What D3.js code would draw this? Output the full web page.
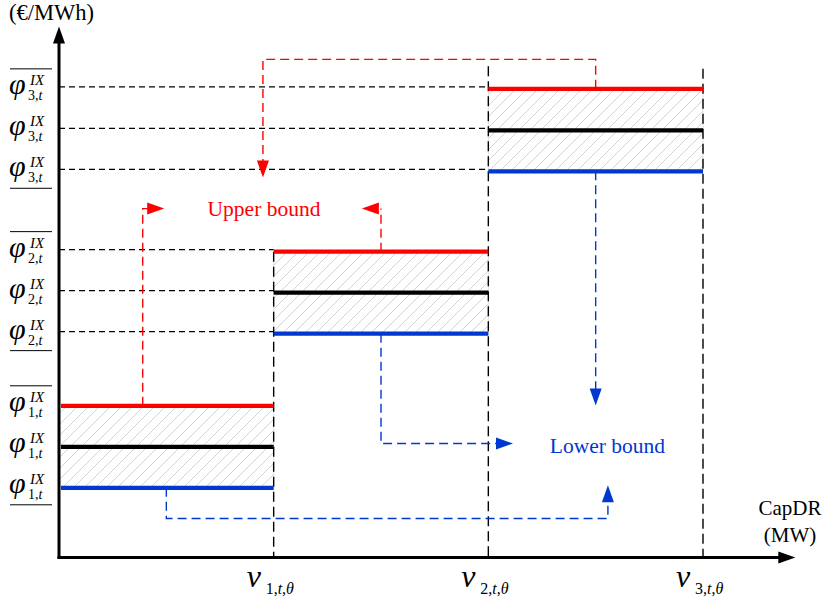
<!DOCTYPE html>
<html>
<head>
<meta charset="utf-8">
<title>CapDR price steps</title>
<style>
  body { margin: 0; background: #fff; }
  svg text { font-family: "Liberation Serif", "DejaVu Serif", serif; }
</style>
</head>
<body>
<div class="drawing"></div>
<script src="https://d3js.org/d3.v7.min.js"></script>
<script>
var w = 827, h = 603;

// data
var steps = [1, 2, 3];
var capBreaks = [0, 1, 2, 3];
var upperPrice = [37, 74.6, 114.3];
var meanPrice  = [27, 64.6, 104.2];
var lowerPrice = [17, 54.6, 94.2];

var red = "#ff0000", blue = "#0038d0";

var svg = d3.select("div.drawing").append("svg")
  .attr("width", w).attr("height", h);

var x = d3.scaleLinear().domain([0, 3]).range([59, 703]);
var y = d3.scaleLinear().domain([0, 130]).range([557.5, 24.5]);

/* hatch pattern */
var pat = svg.append("defs").append("pattern")
  .attr("id", "hatch").attr("patternUnits", "userSpaceOnUse")
  .attr("width", 11).attr("height", 11);
pat.append("path")
  .attr("d", "M-1,1 l2,-2 M0,11 l11,-11 M10,12 l2,-2")
  .attr("stroke", "#d4d4d4").attr("stroke-width", 1);

/* hatched bands */
svg.selectAll("rect.band").data(steps).enter().append("rect")
  .attr("class", "band")
  .attr("x", function(d, i){ return x(capBreaks[i]); })
  .attr("y", function(d, i){ return y(upperPrice[i]); })
  .attr("width", function(d, i){ return x(capBreaks[i + 1]) - x(capBreaks[i]); })
  .attr("height", function(d, i){ return y(lowerPrice[i]) - y(upperPrice[i]); })
  .attr("fill", "url(#hatch)")
  .attr("stroke", "#e2e2e2").attr("stroke-width", 1);

/* horizontal guide lines */
var levels = [upperPrice, meanPrice, lowerPrice];
steps.forEach(function(s, i){
  if (i === 0) return;
  levels.forEach(function(arr){
    svg.append("line")
      .attr("x1", x(0)).attr("x2", x(capBreaks[i]))
      .attr("y1", y(arr[i]) - 2).attr("y2", y(arr[i]) - 2)
      .attr("stroke", "#000").attr("stroke-width", 1.3)
      .attr("stroke-dasharray", "6,4");
  });
});

/* vertical guide lines */
var vTops = [upperPrice[1], 119.8, 119.2];
capBreaks.slice(1).forEach(function(b, i){
  svg.append("line")
    .attr("x1", x(b)).attr("x2", x(b))
    .attr("y1", y(vTops[i])).attr("y2", y(0))
    .attr("stroke", "#000").attr("stroke-width", 1.4)
    .attr("stroke-dasharray", "10,5");
});

/* step lines */
var series = [
  {vals: upperPrice, color: red},
  {vals: meanPrice, color: "#000"},
  {vals: lowerPrice, color: blue}
];
series.forEach(function(sr){
  svg.selectAll(null).data(steps).enter().append("line")
    .attr("x1", function(d, i){ return x(capBreaks[i]) + (i === 0 ? 2 : 0); })
    .attr("x2", function(d, i){ return x(capBreaks[i + 1]); })
    .attr("y1", function(d, i){ return y(sr.vals[i]); })
    .attr("y2", function(d, i){ return y(sr.vals[i]); })
    .attr("stroke", sr.color).attr("stroke-width", 4.3);
});

/* arrows */
function head(tx, ty, dir, color){
  var L = 17, hw = 6, p;
  if (dir === "down") p = [[tx, ty], [tx - hw, ty - L], [tx + hw, ty - L]];
  if (dir === "up") p = [[tx, ty], [tx - hw, ty + L], [tx + hw, ty + L]];
  if (dir === "right") p = [[tx, ty], [tx - L, ty - hw], [tx - L, ty + hw]];
  if (dir === "left") p = [[tx, ty], [tx + L, ty - hw], [tx + L, ty + hw]];
  svg.append("path").attr("d", "M" + p.join("L") + "Z").attr("fill", color);
}
function dashed(pts, color){
  svg.append("path")
    .attr("d", d3.line()(pts))
    .attr("fill", "none").attr("stroke", color).attr("stroke-width", 1.4)
    .attr("stroke-dasharray", "9,5");
}

// upper bound (red)
dashed([[x(2.5), y(upperPrice[2])], [x(2.5), y(121.5)], [x(0.95), y(121.5)], [x(0.95), y(96)]], red);
head(x(0.95), y(92.7), "down", red);
dashed([[x(0.39), y(upperPrice[0])], [x(0.39), y(85.1)], [x(0.42), y(85.1)]], red);
head(x(0.49), y(85.1), "right", red);
dashed([[x(1.5), y(upperPrice[1])], [x(1.5), y(85.1)]], red);
head(x(1.411), y(85.1), "left", red);
svg.append("text").attr("x", x(0.955)).attr("y", y(85.1) + 7)
  .attr("text-anchor", "middle").attr("font-size", 21.5).attr("fill", red)
  .text("Upper bound");

// lower bound (blue)
dashed([[x(1.5), y(lowerPrice[1])], [x(1.5), y(27.8)], [x(2.05), y(27.8)]], blue);
head(x(2.115), y(27.8), "right", blue);
dashed([[x(2.5), y(lowerPrice[2])], [x(2.5), y(41)]], blue);
head(x(2.5), y(37.1), "down", blue);
dashed([[x(0.5), y(lowerPrice[0])], [x(0.5), y(9.5)], [x(2.557), y(9.5)], [x(2.557), y(14)]], blue);
head(x(2.557), y(17.6), "up", blue);
svg.append("text").attr("x", x(2.555)).attr("y", y(27.1) + 7)
  .attr("text-anchor", "middle").attr("font-size", 21.5).attr("fill", blue)
  .text("Lower bound");

/* axes */
svg.append("line").attr("x1", x(0)).attr("x2", x(0))
  .attr("y1", y(0) + 1.5).attr("y2", y(126)).attr("stroke", "#000").attr("stroke-width", 3);
head(x(0), y(130) + 2, "up", "#000");
svg.append("line").attr("x1", x(0) - 1.5).attr("x2", x(3.36))
  .attr("y1", y(0)).attr("y2", y(0)).attr("stroke", "#000").attr("stroke-width", 3);
head(x(3.43), y(0), "right", "#000");

svg.append("text").attr("x", 9).attr("y", 20).attr("font-size", 22.5).text("(€/MWh)");
svg.append("text").attr("x", 790).attr("y", 515).attr("text-anchor", "middle")
  .attr("font-size", 21).text("CapDR");
svg.append("text").attr("x", 790).attr("y", 542).attr("text-anchor", "middle")
  .attr("font-size", 21).text("(MW)");

/* y labels */
var marks = ["over", "", "under"];
steps.forEach(function(s, i){
  levels.forEach(function(arr, k){
    var ly = y(arr[i]);
    var g = svg.append("g");
    g.append("text").attr("x", 9).attr("y", ly + 5)
      .attr("font-size", 30).attr("font-style", "italic").text("φ");
    g.append("text").attr("x", 30).attr("y", ly - 4)
      .attr("font-size", 15).attr("font-style", "italic").text("IX");
    var sub = g.append("text").attr("x", 28).attr("y", ly + 11).attr("font-size", 14);
    sub.append("tspan").text(s + ",");
    sub.append("tspan").attr("font-style", "italic").text("t");
    if (marks[k] === "over")
      g.append("line").attr("x1", 10).attr("x2", 52).attr("y1", ly - 20).attr("y2", ly - 20)
        .attr("stroke", "#000").attr("stroke-width", 1);
    if (marks[k] === "under")
      g.append("line").attr("x1", 10).attr("x2", 52).attr("y1", ly + 17).attr("y2", ly + 17)
        .attr("stroke", "#000").attr("stroke-width", 1);
  });
});

/* x labels */
capBreaks.slice(1).forEach(function(b, i){
  var tx = x(b);
  svg.append("text").attr("x", tx - 27).attr("y", 587)
    .attr("font-size", 32).attr("font-style", "italic").text("ν");
  var sub = svg.append("text").attr("x", tx - 8).attr("y", 594).attr("font-size", 16);
  sub.append("tspan").text(steps[i] + ",");
  sub.append("tspan").attr("font-style", "italic").text("t");
  sub.append("tspan").text(",");
  sub.append("tspan").attr("font-style", "italic").text("θ");
});
</script>
</body>
</html>
